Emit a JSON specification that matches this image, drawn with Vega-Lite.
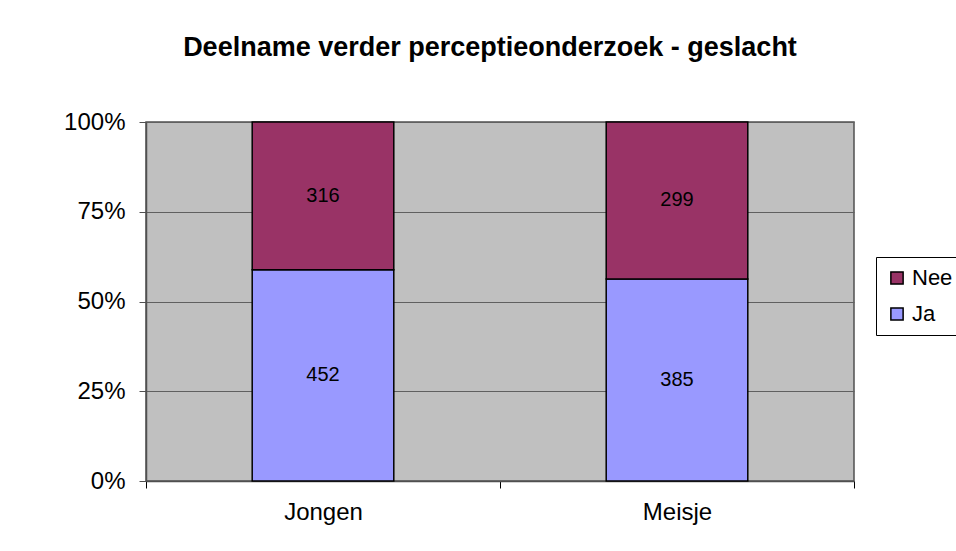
{
  "$schema": "https://vega.github.io/schema/vega-lite/v6.json",
  "width": 708,
  "height": 359,
  "autosize": {"type": "none"},
  "padding": {"left": 146, "top": 122, "right": 102, "bottom": 70},
  "background": "white",
  "title": {
    "text": "Deelname verder perceptieonderzoek - geslacht",
    "font": "Liberation Sans",
    "fontSize": 27,
    "fontWeight": "bold",
    "color": "black",
    "anchor": "middle",
    "dx": -10,
    "offset": 48
  },
  "data": {
    "values": [
      {"geslacht": "Jongen", "antwoord": "Ja", "aantal": 452},
      {"geslacht": "Jongen", "antwoord": "Nee", "aantal": 316},
      {"geslacht": "Meisje", "antwoord": "Ja", "aantal": 385},
      {"geslacht": "Meisje", "antwoord": "Nee", "aantal": 299}
    ]
  },
  "transform": [
    {"stack": "aantal", "groupby": ["geslacht"], "sort": [{"field": "antwoord", "order": "ascending"}], "offset": "normalize", "as": ["y0", "y1"]},
    {"calculate": "(datum.y0 + datum.y1) / 2", "as": "ymid"}
  ],
  "encoding": {
    "x": {
      "field": "geslacht",
      "type": "nominal",
      "title": null,
      "scale": {"paddingInner": 0, "paddingOuter": 0},
      "axis": {
        "labelAngle": 0,
        "labelFont": "Liberation Sans",
        "labelFontSize": 24,
        "labelColor": "black",
        "labelPadding": 12,
        "tickBand": "extent",
        "tickSize": 7,
        "tickColor": "black",
        "domainColor": "#505050",
        "domainWidth": 1.5
      }
    }
  },
  "layer": [
    {
      "mark": {"type": "bar", "stroke": "black", "strokeWidth": 1.5, "width": {"band": 0.4}},
      "encoding": {
        "y": {
          "field": "y0",
          "type": "quantitative",
          "title": null,
          "scale": {"domain": [0, 1]},
          "axis": {
            "values": [0, 0.25, 0.5, 0.75, 1],
            "format": "%",
            "labelFont": "Liberation Sans",
            "labelFontSize": 24,
            "labelColor": "black",
            "labelPadding": 14,
            "tickSize": 7,
            "tickColor": "#505050",
            "domainColor": "#505050",
            "domainWidth": 1.5,
            "grid": true,
            "gridColor": "#606060",
            "gridWidth": 1
          }
        },
        "y2": {"field": "y1"},
        "color": {
          "field": "antwoord",
          "type": "nominal",
          "scale": {"domain": ["Nee", "Ja"], "range": ["#993366", "#9999FF"]},
          "legend": {
            "title": null,
            "orient": "none",
            "legendX": 730,
            "legendY": 135,
            "fillColor": "white",
            "strokeColor": "black",
            "padding": 10,
            "symbolType": "square",
            "symbolSize": 150,
            "symbolStrokeColor": "black",
            "symbolStrokeWidth": 1.5,
            "labelFont": "Liberation Sans",
            "labelFontSize": 22,
            "labelColor": "black",
            "rowPadding": 14,
            "labelOffset": 4
          }
        }
      }
    },
    {
      "mark": {"type": "text", "font": "Liberation Sans", "fontSize": 20, "color": "black"},
      "encoding": {
        "y": {"field": "ymid", "type": "quantitative"},
        "text": {"field": "aantal", "type": "quantitative"}
      }
    }
  ],
  "config": {
    "view": {"fill": "#C0C0C0", "stroke": "#505050", "strokeWidth": 1.5}
  }
}
